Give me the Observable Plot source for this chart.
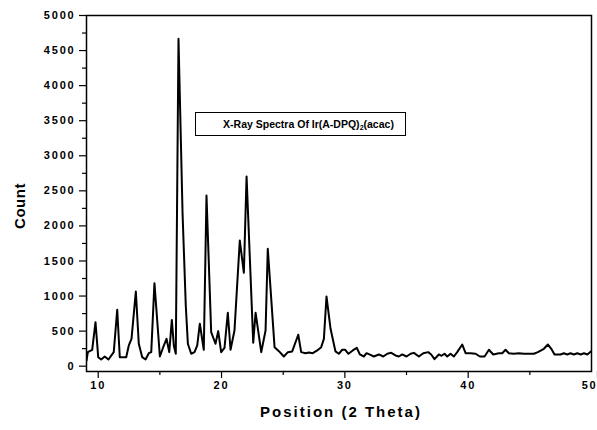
<!DOCTYPE html>
<html>
<head>
<meta charset="utf-8">
<script src="https://cdn.jsdelivr.net/npm/d3@7"></script>
<script src="https://cdn.jsdelivr.net/npm/@observablehq/plot@0.6"></script>
<style>
  html, body { margin: 0; padding: 0; background: #fff; }
  #wrap { position: relative; width: 597px; height: 430px; font-family: "Liberation Sans", Arial, sans-serif; }
  #chart svg text { letter-spacing: 1.8px; }
  .lbl { position: absolute; font-weight: bold; color: #000; white-space: nowrap; }
  #xlabel { left: 341px; top: 411px; transform: translate(-50%, -50%); font-size: 15px; letter-spacing: 2px; }
  #ylabel { left: 19px; top: 206px; transform: translate(-50%, -50%) rotate(-90deg); font-size: 15px; letter-spacing: 0.5px; }
  #legend { left: 195px; top: 112px; width: 193px; padding-left: 16px; height: 22px; border: 1px solid #000; background: #fff;
            font-size: 10.5px; line-height: 22px; text-align: center; letter-spacing: 0px; }
  #legend sub { font-size: 7px; vertical-align: -2px; line-height: 0; }
</style>
</head>
<body>
<div id="wrap">
  <div id="chart"></div>
  <div class="lbl" id="legend">X-Ray Spectra Of Ir(A-DPQ)<sub>2</sub>(acac)</div>
  <div class="lbl" id="ylabel">Count</div>
  <div class="lbl" id="xlabel">Position (2 Theta)</div>
</div>
<script>
// 2θ positions (degrees)
const twoTheta = [
  9.05, 9.16, 9.51, 9.78, 10.0, 10.24, 10.53, 10.83, 11.26, 11.54,
  11.75, 12.27, 12.48, 12.70, 13.05, 13.29, 13.57, 13.84, 14.10, 14.30,
  14.56, 15.0, 15.27, 15.54, 15.76, 15.97, 16.13, 16.29, 16.51, 16.84,
  17.10, 17.27, 17.54, 17.81, 18.03, 18.24, 18.56, 18.78, 19.16, 19.51,
  19.73, 19.97, 20.24, 20.51, 20.73, 21.05, 21.48, 21.81, 22.03, 22.57,
  22.76, 23.22, 23.57, 23.75, 24.30, 24.65, 25.05, 25.38, 25.73, 26.22,
  26.46, 26.81, 27.08, 27.40, 27.76, 28.08, 28.30, 28.51, 28.84, 29.24,
  29.51, 29.79, 30.03, 30.29, 30.64, 30.97, 31.22, 31.54, 31.76, 32.08,
  32.35, 32.76, 33.11, 33.44, 33.76, 34.11, 34.38, 34.65, 35.0, 35.33,
  35.6, 36.0, 36.36, 36.76, 37.0, 37.27, 37.62, 37.84, 38.08, 38.3,
  38.57, 38.84, 39.11, 39.52, 39.79, 40.19, 40.6, 40.95, 41.33, 41.68,
  42.03, 42.49, 42.76, 43.03, 43.3, 43.7, 44.11, 44.52, 44.92, 45.33,
  45.65, 46.14, 46.46, 46.74, 47.0, 47.49, 47.76, 48.03, 48.3, 48.57,
  48.85, 49.12, 49.39, 49.66, 50.0
];
// Counts
const count = [
  80, 200, 234, 627, 128, 95, 138, 95, 200, 804,
  128, 128, 295, 390, 1065, 320, 128, 95, 185, 200,
  1184, 138, 270, 390, 200, 660, 295, 177, 4668, 2173,
  865, 320, 177, 200, 295, 605, 234, 2434, 485, 320,
  500, 200, 262, 762, 234, 509, 1792, 1332, 2705, 334,
  762, 200, 509, 1674, 271, 214, 138, 200, 210, 448,
  200, 185, 195, 185, 224, 271, 390, 994, 533, 210,
  177, 234, 234, 177, 224, 262, 167, 138, 185, 162,
  138, 167, 138, 177, 190, 153, 138, 167, 138, 177,
  190, 138, 185, 200, 167, 100, 167, 148, 177, 138,
  177, 138, 200, 309, 185, 185, 177, 138, 138, 234,
  167, 185, 185, 234, 185, 177, 185, 177, 177, 177,
  200, 248, 309, 248, 167, 167, 185, 167, 185, 167,
  185, 167, 185, 167, 214
];
const xMajor = [10, 20, 30, 40];
const xLast = [50];
const xMinor = [15, 25, 35, 45];
const yMajor = [0, 500, 1000, 1500, 2000, 2500, 3000, 3500, 4000, 4500, 5000];
const yMinor = [250, 750, 1250, 1750, 2250, 2750, 3250, 3750, 4250, 4750];

const data = twoTheta.map((x, i) => ({x, y: count[i]}));
const tickFont = {fontSize: 11, fontWeight: "bold", fill: "#000"};

const chart = Plot.plot({
  width: 597,
  height: 430,
  marginLeft: 86,
  marginRight: 6,
  marginTop: 15,
  marginBottom: 59,
  style: {fontFamily: "'Liberation Sans', Arial, sans-serif", color: "#000", background: "#fff", overflow: "visible"},
  x: {domain: [9.05, 50]},
  y: {domain: [-76, 5000]},
  marks: [
    Plot.axisX(xMajor, {tickSize: 7, tickPadding: 3, strokeWidth: 1.2, label: null, tickFormat: d => String(d), ...tickFont}),
    Plot.axisX(xLast, {tickSize: 7, tickPadding: 3, strokeWidth: 1.2, label: null, tickFormat: d => String(d), ...tickFont, textAnchor: "end", dx: 6}),
    Plot.axisX(xMinor, {tickSize: 4, tickFormat: () => "", strokeWidth: 1.2, label: null}),
    Plot.axisY(yMajor, {tickSize: 7, tickPadding: 4, strokeWidth: 1.2, label: null, tickFormat: d => String(d), ...tickFont}),
    Plot.axisY(yMinor, {tickSize: 4, tickFormat: () => "", strokeWidth: 1.2, label: null}),
    Plot.line(data, {x: "x", y: "y", stroke: "#000", strokeWidth: 2, clip: true}),
    Plot.frame({stroke: "#000", strokeWidth: 1.5})
  ]
});
document.getElementById("chart").appendChild(chart);
</script>
</body>
</html>
